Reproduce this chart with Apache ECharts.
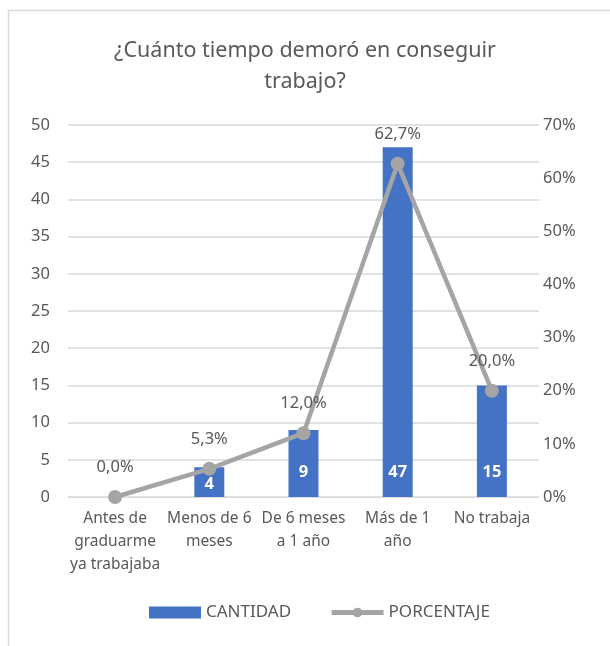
<!DOCTYPE html>
<html>
<head>
<meta charset="utf-8">
<script src="https://cdn.jsdelivr.net/npm/echarts@6/dist/echarts.min.js"></script>
<style>
html,body{margin:0;padding:0;background:#fff;}
#main{width:610px;height:646px;}
</style>
</head>
<body>
<div id="main"></div>
<script>
var categorias = ['Antes de\ngraduarme\nya trabajaba', 'Menos de 6\nmeses', 'De 6 meses\na 1 año', 'Más de 1\naño', 'No trabaja'];
var cantidad = [0, 4, 9, 47, 15];
var porcentaje = [0.0, 5.3, 12.0, 62.7, 20.0];
var ticksIzq = [0, 5, 10, 15, 20, 25, 30, 35, 40, 45, 50];

var FONT = 'Noto Sans';
var myChart = echarts.init(document.getElementById('main'));

// etiquetas de barra: base interior, blanco
var barData = cantidad.map(function (v) {
    return {
        value: v,
        label: { distance: v < 5 ? 4 : 16 }
    };
});

var option = {
    textStyle: { fontFamily: FONT },
    graphic: [{
        type: 'rect',
        shape: { x: 8.5, y: 10.5, width: 640, height: 660 },
        style: { fill: 'none', stroke: '#d9d9d9', lineWidth: 1.5 },
        silent: true
    }],
    title: {
        text: '¿Cuánto tiempo demoró en conseguir\ntrabajo?',
        left: 'center',
        top: 30,
        textStyle: {
            fontFamily: FONT,
            fontSize: 21.5,
            fontWeight: 'normal',
            color: '#595959',
            lineHeight: 31
        }
    },
    legend: {
        bottom: 20,
        left: 144,
        itemGap: 38,
        itemWidth: 52,
        itemHeight: 12,
        textStyle: { fontFamily: FONT, fontSize: 17, color: '#595959' },
        data: [
            { name: 'CANTIDAD', icon: 'rect', itemStyle: { color: '#4472C4' } },
            { name: 'PORCENTAJE', itemStyle: { color: '#A5A5A5' }, lineStyle: { width: 5, color: '#A5A5A5' } }
        ]
    },
    grid: { left: 68, right: 71, top: 125, bottom: 149 },
    xAxis: {
        type: 'category',
        data: categorias,
        axisLine: { lineStyle: { color: '#d9d9d9', width: 1 } },
        axisTick: { show: false },
        axisLabel: {
            color: '#595959',
            fontFamily: FONT,
            fontSize: 15.5,
            lineHeight: 23,
            margin: 10,
            interval: 0
        }
    },
    yAxis: [{
        type: 'value',
        min: ticksIzq[0],
        max: ticksIzq[ticksIzq.length - 1],
        interval: 5,
        axisLine: { show: false },
        axisTick: { show: false },
        splitLine: { lineStyle: { color: '#d9d9d9', width: 1.5 } },
        axisLabel: { color: '#595959', fontFamily: FONT, fontSize: 16.5, margin: 18 }
    }, {
        type: 'value',
        min: 0,
        max: 70,
        interval: 10,
        axisLine: { show: false },
        axisTick: { show: false },
        splitLine: { show: false },
        axisLabel: { color: '#595959', fontFamily: FONT, fontSize: 16.5, margin: 4, formatter: '{value}%' }
    }],
    series: [{
        name: 'CANTIDAD',
        type: 'bar',
        yAxisIndex: 0,
        barWidth: 30,
        itemStyle: { color: '#4472C4' },
        label: {
            show: true,
            position: 'insideBottom',
            color: '#ffffff',
            fontFamily: FONT,
            fontSize: 16.5,
            fontWeight: 'bold'
        },
        data: barData
    }, {
        name: 'PORCENTAJE',
        type: 'line',
        yAxisIndex: 1,
        symbol: 'circle',
        symbolSize: 14,
        lineStyle: { color: '#A5A5A5', width: 4.5 },
        itemStyle: { color: '#A5A5A5' },
        label: {
            show: true,
            position: 'top',
            distance: 14,
            color: '#595959',
            fontFamily: FONT,
            fontSize: 16.5,
            formatter: function (p) { return p.value.toFixed(1).replace('.', ',') + '%'; }
        },
        z: 3,
        data: porcentaje
    }]
};
myChart.setOption(option);
</script>
</body>
</html>
